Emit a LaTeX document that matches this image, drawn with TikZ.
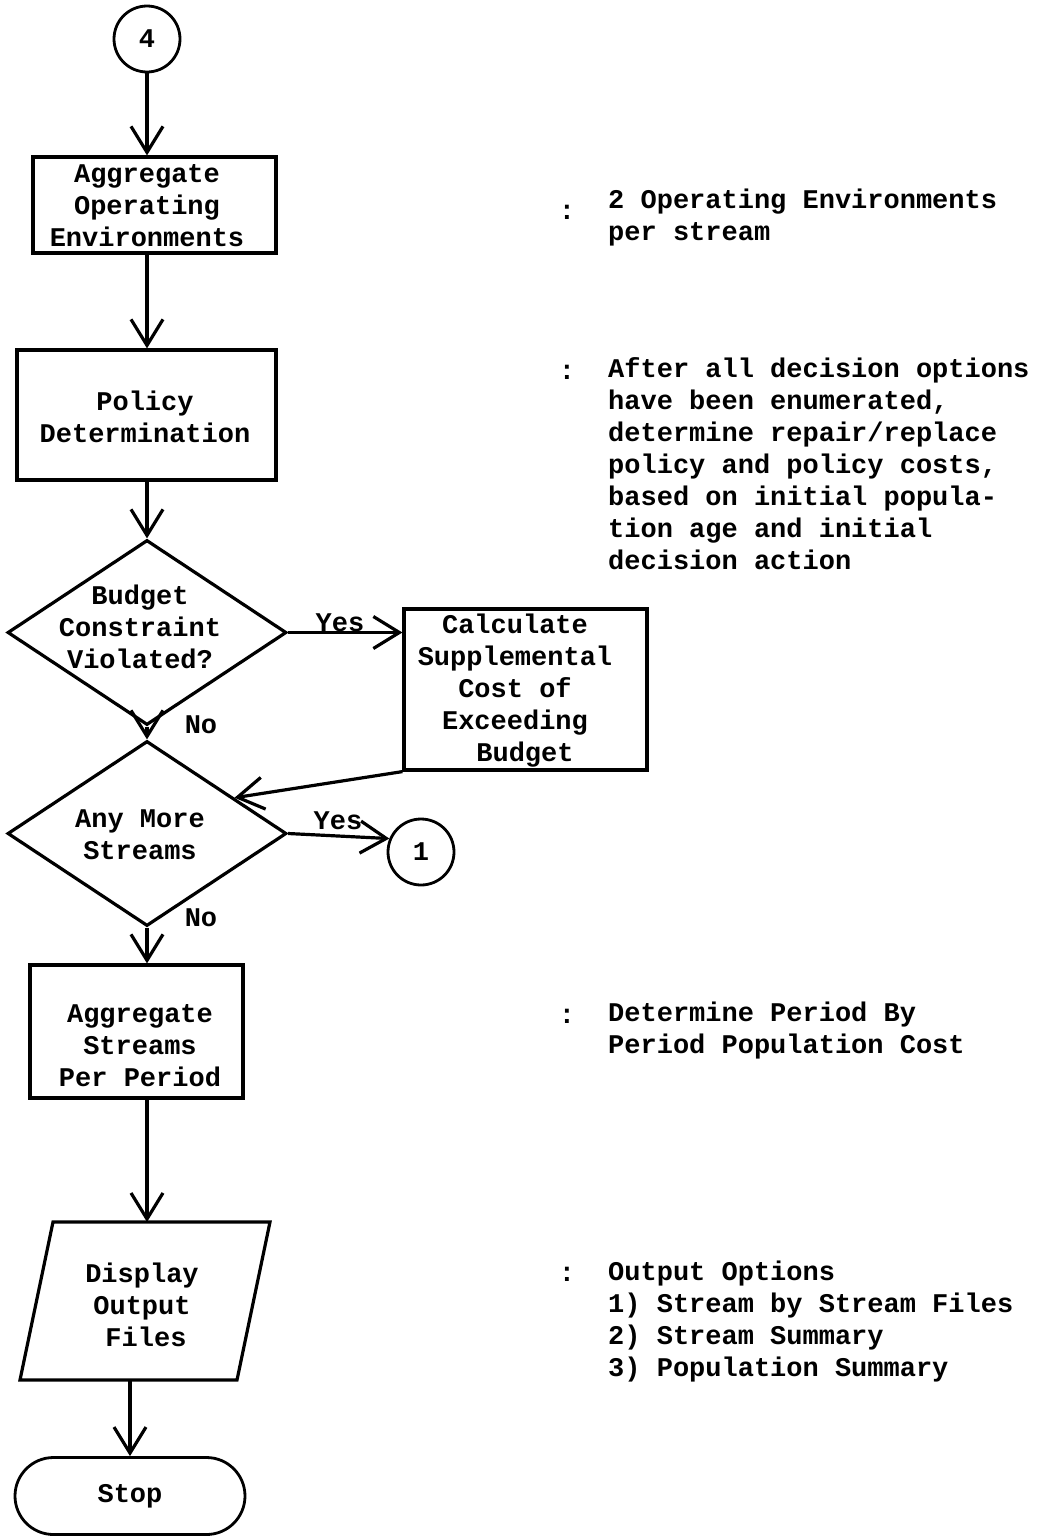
\documentclass[tikz,border=0pt]{standalone}
\usepackage{fontspec}
\newfontfamily\typewriter{Liberation Mono}
\usetikzlibrary{arrows.meta,calc,shapes.geometric,shapes.misc}
\begin{document}
\begin{tikzpicture}[x=1pt,y=-1pt,
  every node/.style={font=\typewriter\bfseries\fontsize{27pt}{32pt}\selectfont, inner sep=0pt},
  flow/.style={line width=3.2pt, -{Straight Barb[length=26pt,width=32pt]}},
  procbox/.style={draw, line width=3.2pt, rectangle},
  decision/.style={draw, line width=3.2pt, diamond, minimum width=279pt, minimum height=185pt},
  conn/.style={draw, line width=2.8pt, circle, minimum size=66pt},
  terminal/.style={draw, line width=2.8pt, rounded rectangle, minimum width=230pt, minimum height=77pt},
  boxtext/.style={align=center},
  note/.style={align=left, anchor=north west},
  colon/.style={anchor=center},
]
\useasboundingbox (0,0) rectangle (1039,1537);
\coordinate (spine) at (147,0);

% main column
\node[conn] (c4) at (147,39) {4};

\node[procbox, minimum width=243pt, minimum height=96pt] (agg1) at (154.5,205) {};
\node[boxtext] (agg1t) at (147,206) {Aggregate\\Operating\\Environments};

\node[procbox, minimum width=259pt, minimum height=130pt] (policy) at (146.5,415) {};
\node[boxtext] (policyt) at (145,417) {Policy\\Determination};

\node[decision] (budget) at (147,632.5) {};
\node[boxtext] (budgett) at (140,627) {Budget\\Constraint\\Violated?};

\node[procbox, minimum width=243pt, minimum height=161pt] (supp) at (525.5,689.5) {};
\node[boxtext] (suppt) at (515,691) {Calculate\\Supplemental\\Cost of\\Exceeding\\\hspace*{20pt}Budget};

\node[decision] (more) at (147,833.5) {};
\node[boxtext] (moret) at (140,835) {Any More\\Streams};

\node[conn] (c1) at (421,852) {1};

\node[procbox, minimum width=213pt, minimum height=133pt] (agg2) at (136.5,1031.5) {};
\node[boxtext] (agg2t) at (140,1046) {Aggregate\\Streams\\Per Period};

% display (parallelogram)
\draw[line width=3.2pt] (53,1222) -- (270,1222) -- (237,1380) -- (20,1380) -- cycle;
\coordinate (disptop) at (147,1222);
\coordinate (dispbot) at (130,1380);
\node[boxtext] (dispt) at (142,1305) {Display\\Output\\\hspace*{8pt}Files};

\node[terminal] (stop) at (130,1496) {Stop};

% connectors
\draw[flow] (c4.south) -- (agg1.north -| spine);
\draw[flow] (agg1.south -| spine) -- (policy.north -| spine);
\draw[flow] (policy.south -| spine) -- (budget.north);
\draw[flow] (budget.east) -- (budget.east -| supp.west);
\draw[flow] (budget.south) -- (more.north);
\draw[flow] (supp.south west) -- ($(more.north)!0.62!(more.east)$);
\draw[flow] (more.east) -- (c1.157);
\draw[flow] (more.south) -- (agg2.north -| spine);
\draw[flow] (agg2.south -| spine) -- (disptop);
\draw[flow] (dispbot) -- (stop.north -| dispbot);

% branch labels
\node[anchor=base] (yes1) at (340,631) {Yes};
\node[anchor=base] (no1) at (201,733) {No};
\node[anchor=base] (yes2) at (338,829) {Yes};
\node[anchor=base] (no2) at (201,926) {No};

% annotations
\node[colon] (col1) at (567,212) {:};
\node[note] (note1) at (608,189) {2 Operating Environments\\per stream};

\node[colon] (col2) at (567,372) {:};
\node[note] (note2) at (608,357) {After all decision options\\have been enumerated,\\determine repair/replace\\policy and policy costs,\\based on initial popula-\\tion age and initial\\decision action};

\node[colon] (col3) at (567,1016) {:};
\node[note] (note3) at (608,1002) {Determine Period By\\Period Population Cost};

\node[colon] (col4) at (567,1274) {:};
\node[note] (note4) at (608,1261) {Output Options\\1) Stream by Stream Files\\2) Stream Summary\\3) Population Summary};
\end{tikzpicture}
\end{document}
